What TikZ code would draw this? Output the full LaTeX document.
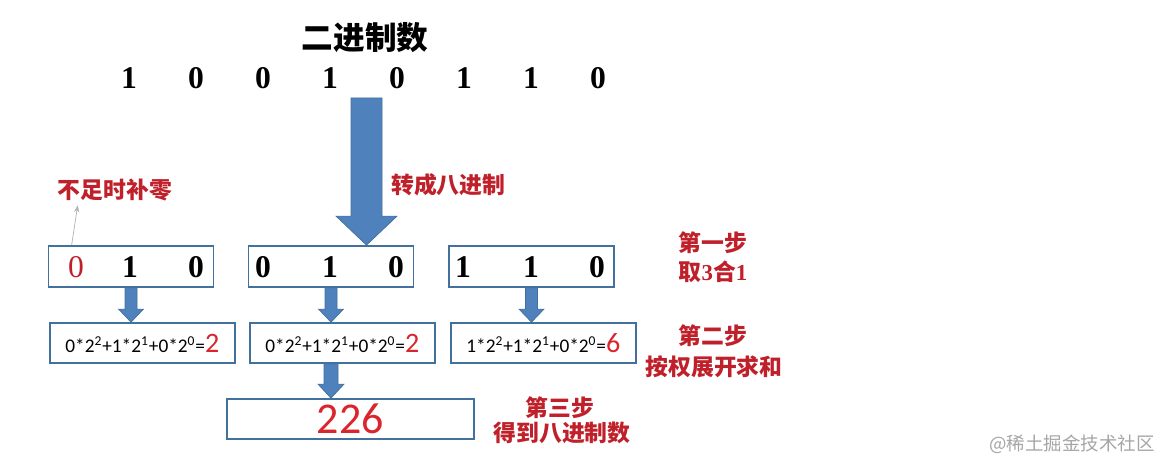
\documentclass[tikz,border=0pt]{standalone}
\usepackage{fontspec}
\setmainfont{Liberation Serif}
\newfontfamily\cjk{Noto Sans CJK SC}
\newfontfamily\calib{Carlito}
\usetikzlibrary{calc,arrows.meta}
\definecolor{boxblue}{HTML}{41719C}
\definecolor{arrblue}{HTML}{4F81BD}
\definecolor{labred}{HTML}{C0202A}
\definecolor{numred}{HTML}{D9252B}
\tikzset{
	binbox/.style={draw=boxblue,line width=1pt,minimum width=3.3cm,minimum height=0.82cm},
	sumbox/.style={draw=boxblue,line width=1pt,minimum width=3.7cm,minimum height=0.8cm,anchor=west,inner sep=0pt},
	bit/.style={font=\fontsize{18}{18}\selectfont\bfseries},
	steplab/.style={text=labred,font=\cjk\bfseries\fontsize{13}{13}\selectfont},
	blockarr/.style={fill=arrblue,draw=boxblue,line width=0.4pt,line join=miter}
}
% top, tip, shaft half width, head half width, head length
\newcommand\blockarr[5]{%
	\draw[blockarr] ($(#1)+(-#3,0)$) -- ($(#2)+(-#3,-#5)$) -- ($(#2)+(-#4,-#5)$) -- (#2)
		-- ($(#2)+(#4,-#5)$) -- ($(#2)+(#3,-#5)$) -- ($(#1)+(#3,0)$) -- cycle;}
\newcommand\wsum[4]{{\calib\fontsize{11}{11}\selectfont #1*2\textsuperscript{2}+#2*2\textsuperscript{1}+#3*2\textsuperscript{0}=\textcolor{numred}{\fontsize{16}{16}\selectfont #4}}}
\begin{document}
\begin{tikzpicture}[x=0.02cm,y=-0.02cm]
\useasboundingbox[fill=white] (0,0) rectangle (1174,472);
\node[font=\cjk\bfseries\fontsize{18}{18}\selectfont] (title) at (365,38) {二进制数};
\foreach \d [count=\i] in {1,0,0,1,0,1,1,0} {
	\node[bit] (t\i) at (62+67*\i,78) {\d};
}
% groups of three
\node[binbox] (b1) at (131,266.5) {};
\node[binbox] (b2) at (331,266.5) {};
\node[binbox] (b3) at (531.5,266.5) {};
\node[bit,font=\fontsize{18}{18}\selectfont,text=labred] (z1) at (76,267) {0};
\foreach \x/\d [count=\i] in {130/1,196/0,263/0,330/1,396/0,463/1,531/1,597/0} {
	\node[bit] (g\i) at (\x,267) {\d};
}
% weighted sums
\node[sumbox] (c1) at (49,343) {\wsum{0}{1}{0}{2}};
\node[sumbox] (c2) at (249,343) {\wsum{0}{1}{0}{2}};
\node[sumbox] (c3) at (450,343) {\wsum{1}{1}{0}{6}};
\node[sumbox,minimum width=4.94cm] (res) at (226,419) {\calib\fontsize{25}{25}\selectfont\textcolor{numred}{226}};
% labels
\node[steplab] (pad) at (115,190) {不足时补零};
\node[steplab,anchor=west] (conv) at (385,185) {转成八进制};
\node[steplab] (s1) at (713,243) {第一步};
\node[steplab] (s1b) at (713,272) {取{\rmfamily\bfseries 3}合{\rmfamily\bfseries 1}};
\node[steplab] (s2) at (713,336) {第二步};
\node[steplab] (s2b) at (714,367) {按权展开求和};
\node[steplab] (s3) at (560,408) {第三步};
\node[steplab] (s3b) at (562,433) {得到八进制数};
\node[text=gray!70,font=\cjk\fontsize{10.5}{10.5}\selectfont] (mark) at (1072,444) {@稀土掘金技术社区};
% arrows
\coordinate (bigtop) at (366.5,98);
\coordinate (bigtip) at (bigtop |- b2.north);
\blockarr{bigtop}{bigtip}{15.5}{30.5}{29}
\foreach \n in {1,2,3} {
	\coordinate (tip\n) at (b\n.south |- c\n.north);
	\blockarr{b\n.south}{tip\n}{6}{12.5}{13}
}
\coordinate (rtop) at (b2.south |- c2.south);
\coordinate (rtip) at (b2.south |- res.north);
\blockarr{rtop}{rtip}{7}{13}{14}
\draw[gray!60,line width=0.4pt,-{Stealth[length=4pt,width=3pt]}] ($(b1.north west)+(24,0)$) -- ($(pad.south west)+(26,-2)$);
\end{tikzpicture}
\end{document}
